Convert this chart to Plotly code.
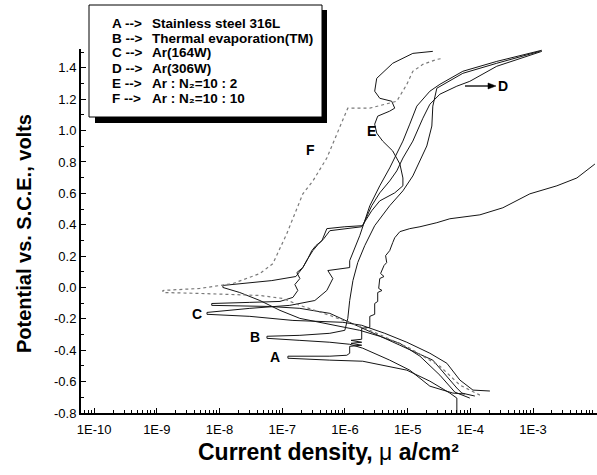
import plotly.graph_objects as go

# ---- data (current density, potential vs SCE) ----
A_i = [6.09e-5, 6.09e-5, 4.71e-5, 2.26e-5, 9.7e-6, 3.59e-6, 1.92e-6, 5.74e-7, 1.91e-7, 1.23e-7,
       1.23e-7, 5.74e-7, 1.07e-6, 1.19e-6, 1.19e-6, 1.85e-6, 1.25e-6, 1.85e-6, 1.25e-6, 1.85e-6,
       1.85e-6, 2.49e-6, 2.49e-6, 2.98e-6, 2.98e-6, 3.33e-6, 3.33e-6, 3.9e-6, 3.45e-6, 3.59e-6,
       4.2e-6, 3.7e-6, 4.2e-6, 4.63e-6, 4.45e-6, 5.17e-6, 5.78e-6, 6.22e-6, 7.52e-6, 1.08e-5,
       1.57e-5, 2.92e-5, 4.71e-5, 1.42e-4, 3.3e-4, 8.9e-4, 2.4e-3, 5.0e-3, 9.7e-3]
A_E = [-0.80, -0.705, -0.673, -0.597, -0.527, -0.489, -0.470, -0.463, -0.457, -0.451,
       -0.438, -0.438, -0.432, -0.419, -0.375, -0.368, -0.356, -0.349, -0.337, -0.330,
       -0.260, -0.254, -0.184, -0.171, -0.102, -0.089, -0.032, -0.019, -0.006, 0.057,
       0.070, 0.089, 0.140, 0.159, 0.203, 0.235, 0.286, 0.317, 0.356, 0.375,
       0.387, 0.413, 0.438, 0.463, 0.508, 0.597, 0.648, 0.698, 0.787]

B_i = [8.17e-5, 5.26e-5, 2.26e-5, 1.08e-5, 5.17e-6, 1.92e-6, 1.19e-6, 5.74e-7, 1.91e-7, 5.7e-8,
       5.7e-8, 1.91e-7, 5.74e-7, 9.95e-7, 1.11e-6, 1.19e-6, 1.34e-6, 1.6e-6, 2.07e-6, 2.98e-6,
       5.17e-6, 8.4e-6, 1.21e-5, 1.57e-5, 2.02e-5, 2.43e-5, 2.52e-5, 2.92e-5, 7.59e-5, 2.64e-4, 1.28e-3]
B_E = [-0.679, -0.673, -0.629, -0.527, -0.463, -0.387, -0.362, -0.349, -0.337, -0.324,
       -0.311, -0.305, -0.292, -0.273, -0.197, -0.083, 0.044, 0.159, 0.267, 0.394,
       0.521, 0.616, 0.711, 0.806, 0.902, 1.029, 1.156, 1.270, 1.365, 1.429, 1.505]

C_i = [2.05e-4, 1.1e-4, 6.81e-5, 4.22e-5, 2.26e-5, 9.7e-6, 4.31e-6, 1.85e-6, 9.25e-7, 1.48e-7,
       3.04e-8, 6.3e-9, 6.3e-9, 3.04e-8, 1.32e-7, 3.31e-7, 5.14e-7, 6.41e-7, 5.33e-7, 1.19e-6,
       1.19e-6, 1.72e-6, 2.49e-6, 3.59e-6, 5.17e-6, 6.7e-6, 8.4e-6, 1.08e-5, 1.4e-5, 2.26e-5,
       3.27e-5, 7.59e-5, 2.64e-4, 1.38e-3]
C_E = [-0.660, -0.654, -0.590, -0.483, -0.419, -0.349, -0.292, -0.241, -0.222, -0.210,
       -0.184, -0.171, -0.159, -0.133, -0.114, -0.083, -0.019, 0.057, 0.108, 0.127,
       0.171, 0.330, 0.521, 0.648, 0.762, 0.851, 0.933, 1.041, 1.156, 1.251,
       1.295, 1.378, 1.441, 1.512]

D_i = [1.18e-4, 7.32e-5, 6.09e-5, 2.52e-5, 7.52e-6, 1.92e-6, 5.74e-7, 1.91e-7, 6.3e-8, 7.5e-9,
       7.5e-9, 3.04e-8, 9.2e-8, 1.48e-7, 1.77e-7, 1.59e-7, 1.91e-7, 1.71e-7, 2.13e-7, 2.56e-7,
       2.96e-7, 3.44e-7, 4.29e-7, 5.14e-7, 9.95e-7, 1.92e-6, 2.67e-6, 3.59e-6, 5.17e-6, 6.7e-6,
       8.4e-6, 1.21e-5, 1.75e-5, 2.26e-5, 3.27e-5, 6.09e-5, 9.8e-5, 2.64e-4, 1.38e-3]
D_E = [-0.692, -0.673, -0.641, -0.463, -0.368, -0.260, -0.165, -0.133, -0.121, -0.114,
       -0.102, -0.095, -0.089, -0.063, -0.019, 0.019, 0.057, 0.095, 0.127, 0.184,
       0.235, 0.267, 0.298, 0.375, 0.387, 0.394, 0.521, 0.603, 0.679, 0.743,
       0.825, 0.933, 1.079, 1.168, 1.232, 1.283, 1.314, 1.410, 1.505]

E_i = [9.8e-5, 5.66e-5, 3.27e-5, 1.57e-5, 7.52e-6, 3.59e-6, 1.72e-6, 5.74e-7, 1.91e-7, 9.2e-8,
       4.4e-8, 2.1e-8, 1.13e-8, 1.13e-8, 3.65e-8, 6.82e-8, 1.65e-7, 2.13e-7, 2.56e-7, 3.08e-7,
       3.7e-7, 4.6e-7, 5.74e-7, 9.95e-7, 1.85e-6, 2.67e-6, 3.59e-6, 6.22e-6, 8.4e-6, 8.4e-6,
       7.52e-6, 5.78e-6, 4.0e-6, 3.21e-6, 2.98e-6, 3.33e-6, 5.17e-6, 6.22e-6, 5.57e-6, 3.59e-6,
       2.98e-6, 3.21e-6, 5.78e-6, 1.21e-5, 2.52e-5]
E_E = [-0.705, -0.667, -0.559, -0.438, -0.356, -0.311, -0.273, -0.235, -0.197, -0.146,
       -0.083, -0.032, 0.0, 0.013, 0.032, 0.044, 0.070, 0.127, 0.184, 0.235,
       0.273, 0.311, 0.362, 0.375, 0.387, 0.489, 0.552, 0.603, 0.648, 0.698,
       0.787, 0.870, 0.933, 0.984, 1.041, 1.092, 1.124, 1.143, 1.187, 1.206,
       1.251, 1.333, 1.429, 1.492, 1.505]

F_i = [1.42e-4, 6.81e-5, 3.27e-5, 1.08e-5, 2.49e-6, 5.74e-7, 1.91e-7, 1.02e-7, 4.4e-8, 1.63e-8,
       4.85e-9, 1.25e-9, 1.25e-9, 4.85e-9, 1.63e-8, 4.4e-8, 7.08e-8, 1.18e-7, 1.48e-7, 2.13e-7,
       3.08e-7, 5.14e-7, 7.43e-7, 1.11e-6, 2.49e-6, 5.57e-6, 6.7e-6, 9.7e-6, 1.21e-5, 1.75e-5,
       2.92e-5, 3.65e-5]
F_E = [-0.686, -0.622, -0.502, -0.387, -0.273, -0.178, -0.114, -0.070, -0.051, -0.044,
       -0.038, -0.032, -0.019, -0.006, 0.025, 0.089, 0.152, 0.343, 0.444, 0.597,
       0.679, 0.825, 0.978, 1.143, 1.143, 1.175, 1.187, 1.295, 1.378, 1.422,
       1.454, 1.460]

curve_letters = ["A", "B", "C", "D", "E", "F"]
curve_names = ["Stainless steel 316L", "Thermal evaporation(TM)", "Ar(164W)", "Ar(306W)",
               "Ar : N\u2082=10 : 2", "Ar : N\u2082=10 : 10"]

x_tickvals = [1e-10, 1e-9, 1e-8, 1e-7, 1e-6, 1e-5, 1e-4, 1e-3]
x_ticktext = ["1E-10", "1E-9", "1E-8", "1E-7", "1E-6", "1E-5", "1E-4", "1E-3"]
y_tickvals = [-0.8, -0.6, -0.4, -0.2, 0.0, 0.2, 0.4, 0.6, 0.8, 1.0, 1.2, 1.4]
y_ticktext = ["-0.8", "-0.6", "-0.4", "-0.2", "0.0", "0.2", "0.4", "0.6", "0.8", "1.0", "1.2", "1.4"]

FONT = "Liberation Sans, Arial, DejaVu Sans, sans-serif"

series = [(A_i, A_E), (B_i, B_E), (C_i, C_E), (D_i, D_E), (E_i, E_E), (F_i, F_E)]

fig = go.Figure()
for k, (xi, ye) in enumerate(series):
    if curve_letters[k] == "F":
        line = dict(color="#7a7a7a", width=1.2, dash="dot")
    else:
        line = dict(color="#151515", width=1)
    fig.add_trace(go.Scatter(x=xi, y=ye, mode="lines", line=line,
                             name=curve_letters[k], showlegend=False, hoverinfo="skip"))

x_minor = [m * 10.0 ** e for e in range(-11, -1) for m in range(2, 10)]
y_minor = [round(-0.7 + 0.2 * k, 1) for k in range(12)]

# pixel helpers for layout placement (plot area: x 81..597, y 49..413)
def px(x):
    return (x - 81) / 516.0

def py(y):
    return (413 - y) / 364.0

fig.update_layout(
    width=597, height=475,
    margin=dict(l=81, r=0, t=49, b=62),
    paper_bgcolor="white", plot_bgcolor="white",
    font=dict(family=FONT, color="black"),
    xaxis=dict(type="log", range=[-10.21, -1.98], tickmode="array",
               tickvals=x_tickvals, ticktext=x_ticktext,
               ticks="inside", ticklen=5, tickwidth=1.2, tickcolor="black",
               showline=True, linewidth=2, linecolor="black", showgrid=False, zeroline=False,
               tickfont=dict(size=13, family=FONT), ticklabelstandoff=3,
               minor=dict(tickmode="array", tickvals=x_minor, ticks="inside",
                          ticklen=3, tickwidth=1, tickcolor="black", showgrid=False)),
    yaxis=dict(range=[-0.8, 1.52], tickmode="array",
               tickvals=y_tickvals, ticktext=y_ticktext,
               ticks="inside", ticklen=5, tickwidth=1.2, tickcolor="black",
               showline=True, linewidth=2, linecolor="black", showgrid=False, zeroline=False,
               tickfont=dict(size=13, family=FONT),
               minor=dict(tickmode="array", tickvals=y_minor, ticks="inside",
                          ticklen=3, tickwidth=1, tickcolor="black", showgrid=False)),
)

# axis titles
fig.add_annotation(text="<b>Current density, </b>\u03bc<b> a/cm\u00b2</b>",
                   xref="paper", yref="paper", x=px(328), y=py(452),
                   xanchor="center", yanchor="middle", showarrow=False,
                   font=dict(size=23, family=FONT, color="black"))
fig.add_annotation(text="<b>Potential vs. S.C.E., volts</b>",
                   xref="paper", yref="paper", x=px(24), y=py(234), textangle=-90,
                   xanchor="center", yanchor="middle", showarrow=False,
                   font=dict(size=20, family=FONT, color="black"))

# legend box with shadow
fig.add_shape(type="rect", xref="paper", yref="paper",
              x0=px(95), x1=px(327), y0=py(123), y1=py(10),
              fillcolor="black", line=dict(width=0), layer="above")
fig.add_shape(type="rect", xref="paper", yref="paper",
              x0=px(89), x1=px(322), y0=py(117), y1=py(5),
              fillcolor="white", line=dict(color="black", width=1), layer="above")
row_y = [23, 38, 53, 68, 83, 99]
for k in range(6):
    fig.add_annotation(text="<b>" + curve_letters[k] + " --&gt;</b>", xref="paper", yref="paper",
                       x=px(110), y=py(row_y[k]), xanchor="left", yanchor="middle",
                       showarrow=False, font=dict(size=13.5, family=FONT, color="black"))
    fig.add_annotation(text="<b>" + curve_names[k] + "</b>", xref="paper", yref="paper",
                       x=px(150), y=py(row_y[k]), xanchor="left", yanchor="middle",
                       showarrow=False, font=dict(size=13.5, family=FONT, color="black"))

# curve labels
label_pos = {"A": (275, 357), "B": (255, 337), "C": (197, 314),
             "D": (503, 86), "E": (371, 131), "F": (310, 150)}
for lab, (lx, ly) in label_pos.items():
    fig.add_annotation(text="<b>" + lab + "</b>", xref="paper", yref="paper",
                       x=px(lx), y=py(ly), xanchor="center", yanchor="middle",
                       showarrow=False, font=dict(size=14, family=FONT, color="black"))

# arrow pointing to D (line + head as shapes)
fig.add_shape(type="line", xref="paper", yref="paper",
              x0=px(465), x1=px(489), y0=py(86), y1=py(86),
              line=dict(color="black", width=1.3))
fig.add_shape(type="path", xref="paper", yref="paper",
              path="M %f %f L %f %f L %f %f Z" % (px(496), py(86), px(488), py(83),
                                                  px(488), py(89)),
              fillcolor="black", line=dict(color="black", width=0.5))

fig.write_html("out.html")
